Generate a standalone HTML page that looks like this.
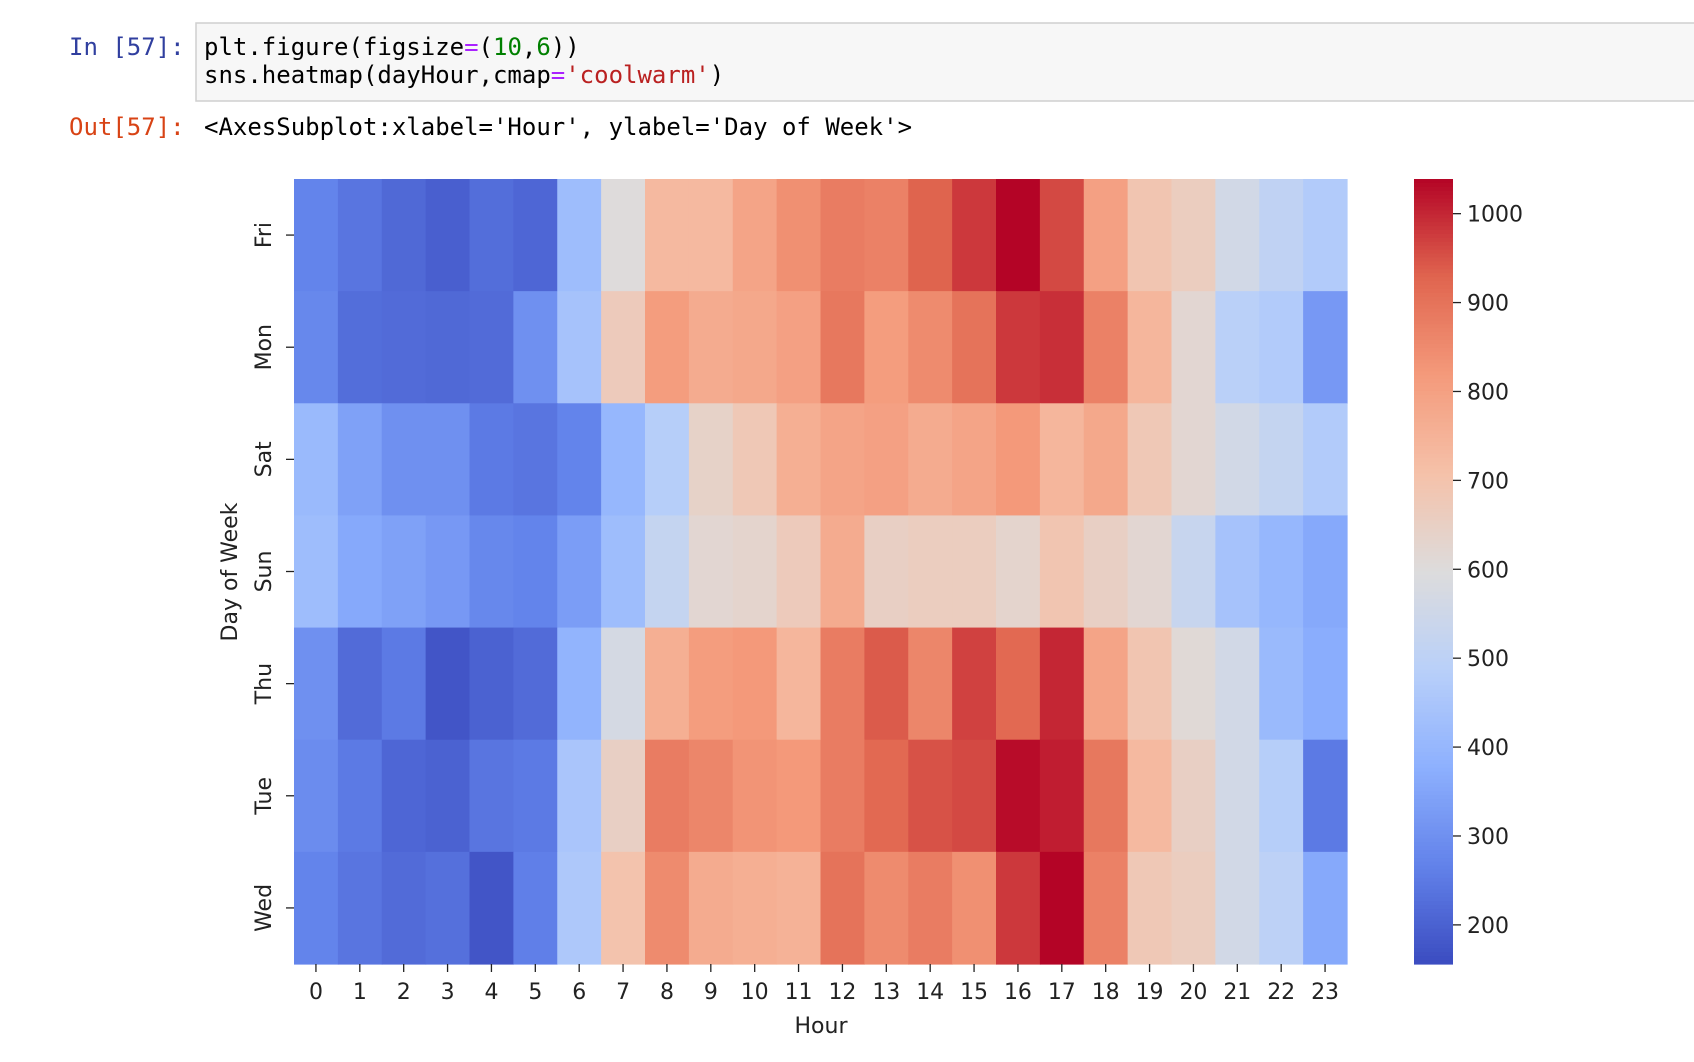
<!DOCTYPE html>
<html><head><meta charset="utf-8"><style>
html,body{margin:0;padding:0;background:#fff;width:1694px;height:1062px;overflow:hidden}
svg{display:block}
</style></head><body>
<svg id="s" width="1694" height="1062" xmlns="http://www.w3.org/2000/svg">
<rect x="196" y="23" width="1510" height="78" fill="#f7f7f7" stroke="#cfcfcf" stroke-width="1.5"/>
<g font-family="'DejaVu Sans Mono','Liberation Mono',monospace" font-size="24px">
<text x="69" y="55" fill="#303f9f">In [57]:</text>
<text x="204" y="55" fill="#000">plt.figure(figsize<tspan fill="#aa22ff">=</tspan>(<tspan fill="#008000">10</tspan>,<tspan fill="#008000">6</tspan>))</text>
<text x="204" y="83" fill="#000">sns.heatmap(dayHour,cmap<tspan fill="#aa22ff">=</tspan><tspan fill="#ba2121">'coolwarm'</tspan>)</text>
<text x="69" y="135" fill="#d84315">Out[57]:</text>
<text x="204" y="135" fill="#000">&lt;AxesSubplot:xlabel='Hour', ylabel='Day of Week'&gt;</text>
</g>
<g id="hm"></g>
<g id="cb"></g>
<g font-family="'DejaVu Sans','Liberation Sans',sans-serif" font-size="22px" fill="#222">
<text x="821" y="1033" text-anchor="middle">Hour</text>
<text transform="translate(237,572) rotate(-90)" text-anchor="middle">Day of Week</text>
</g>
</svg>
<script>
var stops=[[0,[59,76,192]],[0.125,[98,130,234]],[0.25,[141,176,254]],[0.375,[185,208,249]],[0.5,[221,220,220]],[0.625,[245,193,169]],[0.75,[244,154,123]],[0.875,[224,101,79]],[1,[180,4,38]]];
function cm(t){t=Math.max(0,Math.min(1,t));for(var i=1;i<stops.length;i++){if(t<=stops[i][0]){var a=stops[i-1],b=stops[i],f=(t-a[0])/(b[0]-a[0]);return 'rgb('+[0,1,2].map(function(k){return Math.round(a[1][k]+(b[1][k]-a[1][k])*f)}).join(',')+')';}}return 'rgb(180,4,38)';}
var vmin=156,vmax=1039;
var rows=[["Fri",[270,240,215,195,225,210,420,600,730,730,790,840,880,870,930,980,1039,960,800,690,660,560,510,470]],
["Mon",[280,225,220,215,220,300,440,670,810,770,780,800,890,810,850,900,980,990,870,740,620,490,470,320]],
["Sat",[410,340,300,300,250,240,270,400,480,640,680,760,790,800,770,790,820,740,780,680,620,560,520,470]],
["Sun",[420,360,340,320,280,270,330,420,520,620,630,670,770,650,660,660,630,690,650,620,530,440,400,360]],
["Thu",[300,220,250,175,200,220,390,570,760,810,820,740,880,940,860,970,920,1000,790,690,610,560,410,370]],
["Tue",[290,250,210,200,240,250,450,650,880,860,830,820,880,920,950,960,1030,1010,890,730,650,560,480,250]],
["Wed",[270,240,220,230,175,260,460,700,850,770,760,750,900,850,880,840,980,1039,870,680,660,560,500,360]]];
var L=294,T=179,W=1053,H=785,cw=W/24,rh=H/7,s='';
var F="font-family=\"'DejaVu Sans','Liberation Sans',sans-serif\" font-size=\"22px\" fill=\"#222\"";
rows.forEach(function(r,i){r[1].forEach(function(v,j){s+='<rect x="'+(L+j*cw).toFixed(2)+'" y="'+(T+i*rh).toFixed(2)+'" width="'+(cw+0.6).toFixed(2)+'" height="'+(rh+0.6).toFixed(2)+'" fill="'+cm((v-vmin)/(vmax-vmin))+'"/>';});
var y=T+(i+0.5)*rh;s+='<line x1="'+(L-8)+'" x2="'+L+'" y1="'+y+'" y2="'+y+'" stroke="#222" stroke-width="1.3"/>';
s+='<text transform="translate(271,'+y+') rotate(-90)" text-anchor="middle" '+F+'>'+r[0]+'</text>';});
for(var j=0;j<24;j++){var x=L+(j+0.5)*cw;s+='<line x1="'+x+'" x2="'+x+'" y1="'+(T+H)+'" y2="'+(T+H+8)+'" stroke="#222" stroke-width="1.3"/>';s+='<text x="'+x+'" y="'+(T+H+35)+'" text-anchor="middle" '+F+'>'+j+'</text>';}
document.getElementById('hm').innerHTML=s;
var c='',cx=1414,cwid=39,n=200;
for(var k=0;k<n;k++){var y0=T+H*k/n;c+='<rect x="'+cx+'" y="'+y0.toFixed(2)+'" width="'+cwid+'" height="'+(H/n+0.6).toFixed(2)+'" fill="'+cm(1-(k+0.5)/n)+'"/>';}
for(var v=200;v<=1000;v+=100){var y=T+H*(vmax-v)/(vmax-vmin);c+='<line x1="'+(cx+cwid)+'" x2="'+(cx+cwid+8)+'" y1="'+y+'" y2="'+y+'" stroke="#222" stroke-width="1.3"/>';c+='<text x="'+(cx+cwid+14)+'" y="'+(y+8)+'" '+F+'>'+v+'</text>';}
document.getElementById('cb').innerHTML=c;
</script>
</body></html>
